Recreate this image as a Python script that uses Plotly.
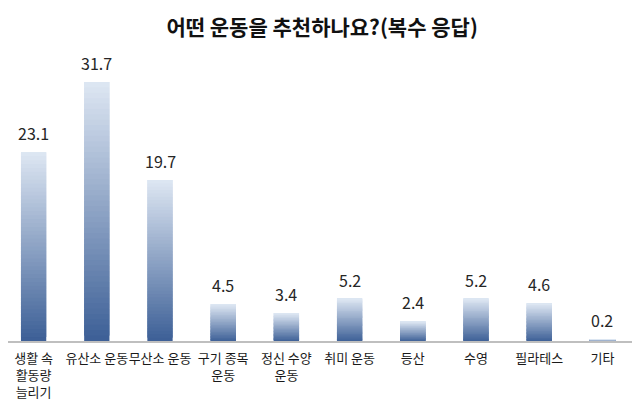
import plotly.graph_objects as go

categories = ["생활 속<br>활동량<br>늘리기", "유산소 운동", "무산소 운동", "구기 종목<br>운동",
              "정신 수양<br>운동", "취미 운동", "등산", "수영", "필라테스", "기타"]
values = [23.1, 31.7, 19.7, 4.5, 3.4, 5.2, 2.4, 5.2, 4.6, 0.2]
value_labels = ["23.1", "31.7", "19.7", "4.5", "3.4", "5.2", "2.4", "5.2", "4.6", "0.2"]
title_text = "어떤 운동을 추천하나요?(복수 응답)"

FONT = "Noto Sans CJK KR"
bottom_rgb = (60, 95, 150)
top_rgb = (222, 231, 243)
N = 48

fig = go.Figure()
for i in range(N):
    t = (i + 0.5) / N
    c = tuple(round(bottom_rgb[k] + (top_rgb[k] - bottom_rgb[k]) * t) for k in range(3))
    bases = [v * i / N for v in values]
    heights = [min(v / N * 2.0, v - b) for v, b in zip(values, bases)]
    fig.add_trace(go.Bar(
        x=categories,
        y=heights,
        base=bases,
        width=0.4,
        marker=dict(color="rgb(%d,%d,%d)" % c, line=dict(width=0)),
        hoverinfo="skip",
        showlegend=False,
    ))

for cat, v, lab in zip(categories, values, value_labels):
    fig.add_annotation(x=cat, y=v, text=lab, showarrow=False, yanchor="bottom",
                       yshift=5, font=dict(family=FONT, size=16, color="#262626"))

# page body has an 8px default margin, so the figure is 8px smaller and shifted
fig.update_layout(
    width=632, height=405,
    barmode="overlay",
    paper_bgcolor="white", plot_bgcolor="white",
    margin=dict(l=0, r=6, t=47, b=72, autoexpand=False),
    title=dict(text="<b>" + title_text + "</b>", x=0.497, xanchor="center",
               y=0.951, yanchor="middle",
               font=dict(family=FONT, size=21, color="#111111")),
    font=dict(family=FONT),
)
fig.update_xaxes(type="category", showline=True, linecolor="#bfbfbf", linewidth=1.5,
                 range=[-0.405, 9.5],
                 ticks="", showgrid=False, tickangle=0, automargin=False,
                 ticklabelstandoff=5,
                 tickfont=dict(family=FONT, size=13, color="#1a1a1a"))
fig.update_yaxes(range=[0, 35], visible=False, showgrid=False, automargin=False)

fig.write_html("out.html")
